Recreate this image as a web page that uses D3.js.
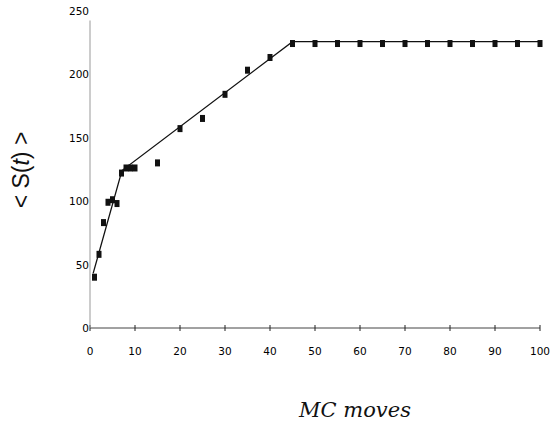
<!DOCTYPE html>
<html>
<head>
<meta charset="utf-8">
<script src="https://cdn.jsdelivr.net/npm/d3@7"></script>
<style>
  body { margin: 0; background: #fff; }
  #svg-container { width: 555px; height: 430px; }
  .tick-label { font-family: "DejaVu Sans", "Liberation Sans", sans-serif; font-size: 10.5px; fill: #000; }
  .x-title { font-family: "DejaVu Serif", "Liberation Serif", serif; font-style: italic; font-size: 21px; fill: #111; }
  .y-title { font-family: "Liberation Sans", Arial, sans-serif; font-size: 23px; fill: #111; }
</style>
</head>
<body>
<div id="svg-container"></div>
<script>
// measured points
var moves = [1, 2, 3, 4, 5, 6, 7, 8, 9, 10, 15, 20, 25, 30, 35, 40,
             45, 50, 55, 60, 65, 70, 75, 80, 85, 90, 95, 100];
var sizes = [40, 58, 83, 99, 101, 98, 122, 126, 126, 126, 130, 157, 165, 184, 203, 213,
             224, 224, 224, 224, 224, 224, 224, 224, 224, 224, 224, 224];

// piecewise fit line
var fitX = [0.7, 7.1, 45, 100];
var fitY = [43, 124, 225.5, 225.5];

var xTicks = [0, 10, 20, 30, 40, 50, 60, 70, 80, 90, 100];
var yTicks = [0, 50, 100, 150, 200, 250];

var width = 555, height = 430;

var svg = d3.select("#svg-container")
            .append("svg")
            .attr("width", width)
            .attr("height", height);

var scaleX = d3.scaleLinear().domain([0, 100]).range([90, 540]);
var scaleY = d3.scaleLinear().domain([0, 250]).range([328, 10.5]);

// x axis
svg.append("line")
   .attr("x1", scaleX(0)).attr("x2", scaleX(100))
   .attr("y1", scaleY(0)).attr("y2", scaleY(0))
   .attr("stroke", "#444").attr("stroke-width", 1);

svg.append("g").selectAll("line")
   .data(xTicks)
   .enter()
   .append("line")
   .attr("x1", function(d) { return scaleX(d); })
   .attr("x2", function(d) { return scaleX(d); })
   .attr("y1", scaleY(0) - 3)
   .attr("y2", scaleY(0) + 3)
   .attr("stroke", "#222");

svg.append("g").selectAll("text")
   .data(xTicks)
   .enter()
   .append("text")
   .attr("class", "tick-label")
   .attr("x", function(d) { return scaleX(d); })
   .attr("y", scaleY(0) + 27)
   .attr("text-anchor", "middle")
   .text(function(d) { return d; });

// y axis
svg.append("line")
   .attr("x1", scaleX(0)).attr("x2", scaleX(0))
   .attr("y1", scaleY(0)).attr("y2", scaleY(250) + 10)
   .attr("stroke", "#999").attr("stroke-width", 1);

svg.append("g").selectAll("text")
   .data(yTicks)
   .enter()
   .append("text")
   .attr("class", "tick-label")
   .attr("x", scaleX(0) - 1)
   .attr("y", function(d) { return scaleY(d) + 4; })
   .attr("text-anchor", "end")
   .text(function(d) { return d; });

// fit line
var line = d3.line()
             .x(function(d) { return scaleX(d[0]); })
             .y(function(d) { return scaleY(d[1]); });

svg.append("path")
   .datum(d3.zip(fitX, fitY))
   .attr("fill", "none")
   .attr("stroke", "#111")
   .attr("stroke-width", 1.3)
   .attr("d", line);

// markers
svg.append("g").selectAll("rect")
   .data(d3.zip(moves, sizes))
   .enter()
   .append("rect")
   .attr("x", function(d) { return scaleX(d[0]) - 2.5; })
   .attr("y", function(d) { return scaleY(d[1]) - 3.5; })
   .attr("width", 5)
   .attr("height", 7)
   .attr("fill", "#111");

// titles
svg.append("text")
   .attr("class", "x-title")
   .attr("x", 355)
   .attr("y", 417)
   .attr("text-anchor", "middle")
   .text("MC moves");

svg.append("text")
   .attr("class", "y-title")
   .attr("transform", "translate(29,170) rotate(-90)")
   .attr("text-anchor", "middle")
   .html('&lt; S(<tspan font-style="italic">t</tspan>) &gt;');
</script>
</body>
</html>
